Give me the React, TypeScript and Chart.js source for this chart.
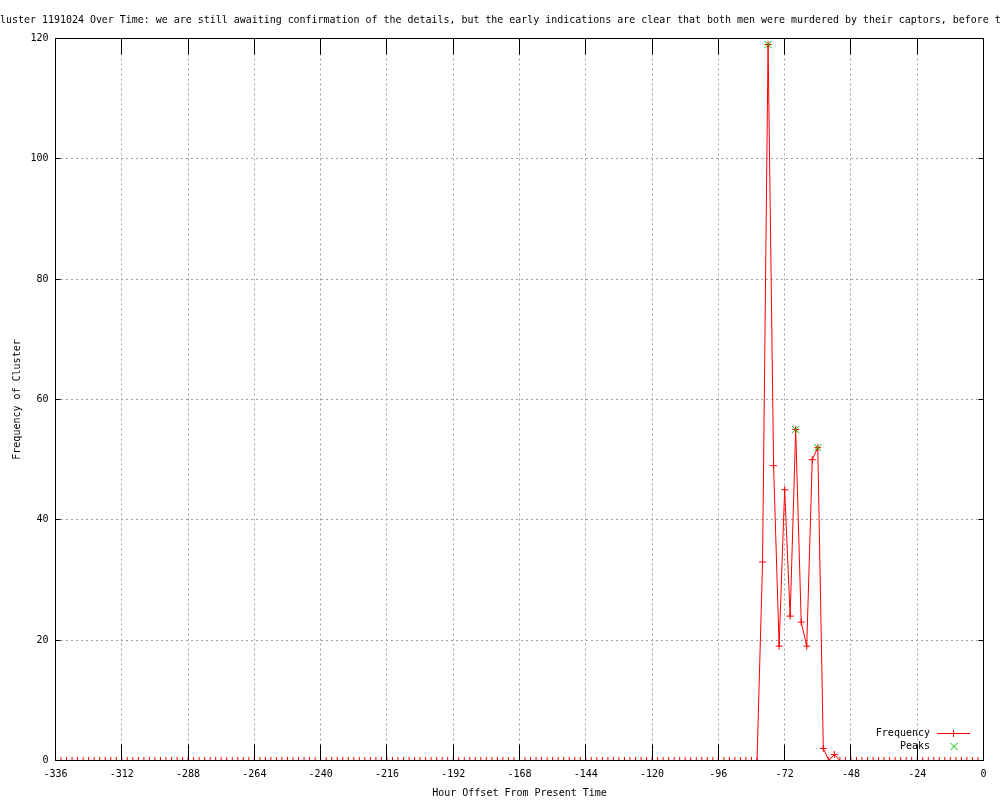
import React, { useEffect, useRef } from "react";
import Chart from "chart.js/auto";

const TITLE =
  "Cluster 1191024 Over Time: we are still awaiting confirmation of the details, but the early indications are clear that both men were murdered by their captors, before they";
const X_LABEL = "Hour Offset From Present Time";
const Y_LABEL = "Frequency of Cluster";
const SERIES_NAME = "Frequency";
const PEAKS_NAME = "Peaks";

const hours = [
  -336, -334, -332, -330, -328, -326, -324, -322, -320, -318, -316, -314,
  -312, -310, -308, -306, -304, -302, -300, -298, -296, -294, -292, -290,
  -288, -286, -284, -282, -280, -278, -276, -274, -272, -270, -268, -266,
  -264, -262, -260, -258, -256, -254, -252, -250, -248, -246, -244, -242,
  -240, -238, -236, -234, -232, -230, -228, -226, -224, -222, -220, -218,
  -216, -214, -212, -210, -208, -206, -204, -202, -200, -198, -196, -194,
  -192, -190, -188, -186, -184, -182, -180, -178, -176, -174, -172, -170,
  -168, -166, -164, -162, -160, -158, -156, -154, -152, -150, -148, -146,
  -144, -142, -140, -138, -136, -134, -132, -130, -128, -126, -124, -122,
  -120, -118, -116, -114, -112, -110, -108, -106, -104, -102, -100, -98,
  -96, -94, -92, -90, -88, -86, -84, -82, -80, -78, -76, -74,
  -72, -70, -68, -66, -64, -62, -60, -58, -56, -54, -52, -50,
  -48, -46, -44, -42, -40, -38, -36, -34, -32, -30, -28, -26,
  -24, -22, -20, -18, -16, -14, -12, -10, -8, -6, -4, -2,
  0,
];

const frequency = [
  0, 0, 0, 0, 0, 0, 0, 0, 0, 0, 0, 0,
  0, 0, 0, 0, 0, 0, 0, 0, 0, 0, 0, 0,
  0, 0, 0, 0, 0, 0, 0, 0, 0, 0, 0, 0,
  0, 0, 0, 0, 0, 0, 0, 0, 0, 0, 0, 0,
  0, 0, 0, 0, 0, 0, 0, 0, 0, 0, 0, 0,
  0, 0, 0, 0, 0, 0, 0, 0, 0, 0, 0, 0,
  0, 0, 0, 0, 0, 0, 0, 0, 0, 0, 0, 0,
  0, 0, 0, 0, 0, 0, 0, 0, 0, 0, 0, 0,
  0, 0, 0, 0, 0, 0, 0, 0, 0, 0, 0, 0,
  0, 0, 0, 0, 0, 0, 0, 0, 0, 0, 0, 0,
  0, 0, 0, 0, 0, 0, 0, 0, 33, 119, 49, 19,
  45, 24, 55, 23, 19, 50, 52, 2, 0, 1, 0, 0,
  0, 0, 0, 0, 0, 0, 0, 0, 0, 0, 0, 0,
  0, 0, 0, 0, 0, 0, 0, 0, 0, 0, 0, 0,
  0,
];

const peakHours = [-78, -68, -60];
const peakValues = [119, 55, 52];

const xTicks = [-336, -312, -288, -264, -240, -216, -192, -168, -144, -120, -96, -72, -48, -24, 0];
const yTicks = [0, 20, 40, 60, 80, 100, 120];

const FONT = '"DejaVu Sans Mono", "Liberation Mono", monospace';
const RED = "#ff0000";
const GREEN = "#00c000";
const GRID = "#a0a0a0";

const decorPlugin = {
  id: "gnuplotDecor",
  afterDatasetsDraw(chart: any) {
    const { ctx, chartArea, scales } = chart;
    const { left, right, top, bottom } = chartArea;
    const xs = scales.x;
    const ys = scales.y;
    ctx.save();
    ctx.strokeStyle = "#000";
    ctx.lineWidth = 1;
    ctx.beginPath();
    ctx.rect(left, top, right - left, bottom - top);
    for (const v of xTicks) {
      const px = Math.round(xs.getPixelForValue(v) - 0.5) + 0.5;
      ctx.moveTo(px, bottom);
      ctx.lineTo(px, bottom - 16);
      ctx.moveTo(px, top);
      ctx.lineTo(px, top + 16);
    }
    for (const v of yTicks) {
      const py = Math.round(ys.getPixelForValue(v) - 0.5) + 0.5;
      ctx.moveTo(left, py);
      ctx.lineTo(left + 5, py);
      ctx.moveTo(right, py);
      ctx.lineTo(right - 5, py);
    }
    ctx.stroke();
    ctx.restore();
  },
  afterDraw(chart: any) {
    const { ctx } = chart;
    ctx.save();
    ctx.fillStyle = "#000";
    ctx.textBaseline = "middle";
    // title
    ctx.font = `9.96px ${FONT}`;
    ctx.textAlign = "left";
    const cw = ctx.measureText("C").width;
    ctx.fillText(TITLE, -cw, 20);
    // legend
    ctx.font = `10px ${FONT}`;
    ctx.textAlign = "right";
    ctx.fillText(SERIES_NAME, 930, 733);
    ctx.fillText(PEAKS_NAME, 930, 746);
    ctx.fillStyle = RED;
    ctx.fillRect(937, 733, 33, 1);
    ctx.fillRect(953, 730, 1, 7);
    ctx.lineWidth = 1;
    ctx.strokeStyle = GREEN;
    ctx.beginPath();
    ctx.moveTo(950.5, 743);
    ctx.lineTo(957.5, 750);
    ctx.moveTo(957.5, 743);
    ctx.lineTo(950.5, 750);
    ctx.stroke();
    ctx.restore();
  },
};

export default function App() {
  const ref = useRef<HTMLCanvasElement | null>(null);
  useEffect(() => {
    if (!ref.current) return;
    const freqData = hours.map((h, i) => ({ x: h, y: frequency[i] }));
    const peakData = peakHours.map((h, i) => ({ x: h, y: peakValues[i] }));
    const tickFont = { family: FONT, size: 10 };
    const chart = new Chart(ref.current, {
      type: "line",
      data: {
        datasets: [
          {
            label: PEAKS_NAME,
            data: peakData,
            showLine: false,
            pointStyle: "crossRot",
            pointRadius: 5,
            pointHoverRadius: 5,
            pointBorderColor: GREEN,
            pointBackgroundColor: GREEN,
            pointBorderWidth: 1,
            borderColor: GREEN,
            order: 0,
          },
          {
            label: SERIES_NAME,
            data: freqData,
            borderColor: RED,
            borderWidth: 1,
            pointStyle: "cross",
            pointRadius: 3.5,
            pointHoverRadius: 3.5,
            pointBorderColor: RED,
            pointBorderWidth: 1,
            tension: 0,
            fill: false,
            order: 1,
          },
        ],
      },
      options: {
        responsive: false,
        animation: false,
        devicePixelRatio: 1,
        layout: { padding: { top: 38.5, right: 16.5, left: 0, bottom: 0 } },
        plugins: {
          legend: { display: false },
          tooltip: { enabled: false },
          title: { display: false },
        },
        events: [],
        scales: {
          x: {
            type: "linear",
            min: -336,
            max: 0,
            afterBuildTicks: (s: any) => {
              s.ticks = xTicks.map((v) => ({ value: v }));
            },
            afterFit: (s: any) => {
              s.height = 39.5;
            },
            ticks: {
              font: tickFont,
              color: "#000",
              padding: 8,
              maxRotation: 0,
              autoSkip: false,
            },
            grid: { color: GRID, lineWidth: 1, drawTicks: false },
            border: { display: false, dash: [2, 3] },
            title: {
              display: true,
              text: X_LABEL,
              font: tickFont,
              color: "#000",
              padding: { top: 0, bottom: 1 },
            },
          },
          y: {
            type: "linear",
            min: 0,
            max: 120,
            afterBuildTicks: (s: any) => {
              s.ticks = yTicks.map((v) => ({ value: v }));
            },
            afterFit: (s: any) => {
              s.width = 55.5;
            },
            ticks: { font: tickFont, color: "#000", padding: 7 },
            grid: { color: GRID, lineWidth: 1, drawTicks: false },
            border: { display: false, dash: [2, 3] },
            title: {
              display: true,
              text: Y_LABEL,
              font: tickFont,
              color: "#000",
              padding: { top: 11, bottom: 0 },
            },
          },
        },
      },
      plugins: [decorPlugin],
    } as any);
    return () => chart.destroy();
  }, []);
  return (
    <div style={{ position: "absolute", left: 0, top: 0, width: 1000, height: 800, background: "#fff" }}>
      <canvas ref={ref} width={1000} height={800} style={{ display: "block", width: 1000, height: 800 }} />
    </div>
  );
}
